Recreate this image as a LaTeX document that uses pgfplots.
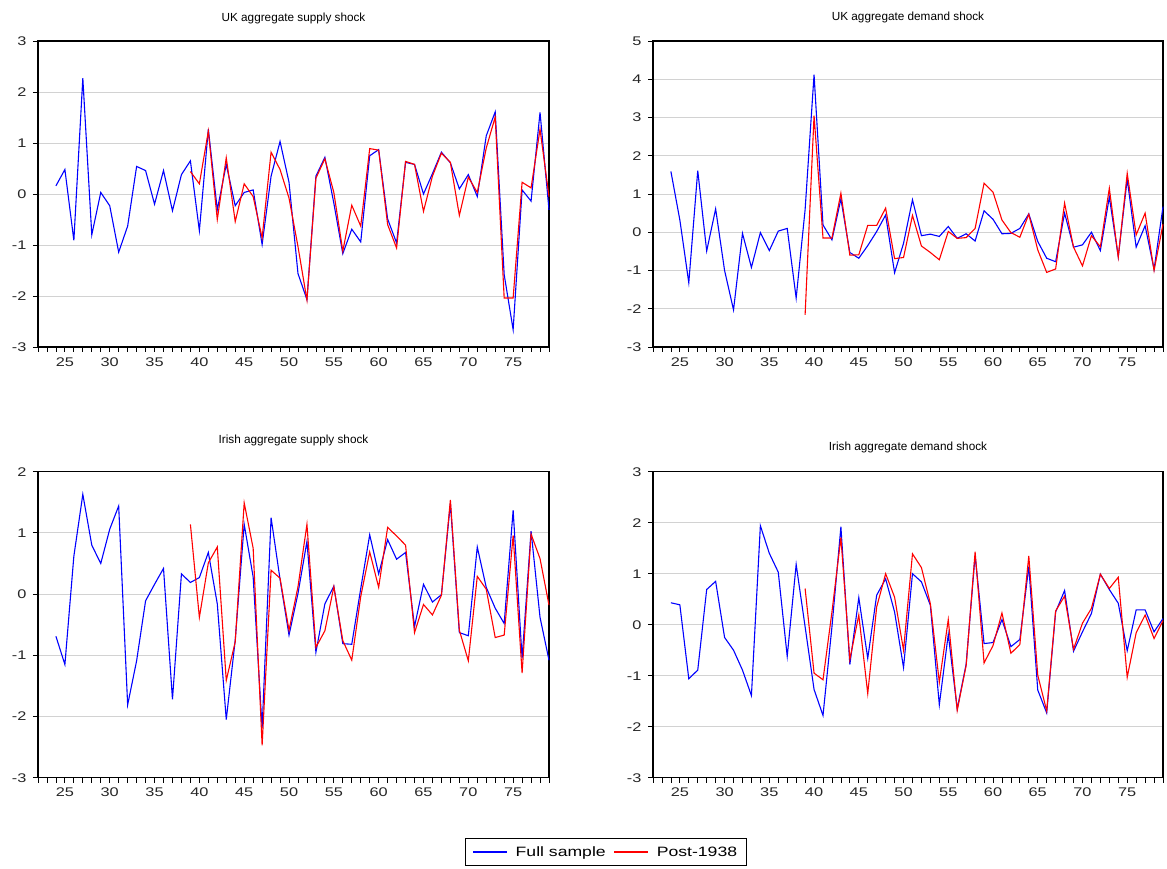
\documentclass[border=0pt]{standalone}
\usepackage{pgfplots}
\pgfplotsset{compat=1.18}
\usepackage{fontspec}
\setmainfont{Liberation Sans}
\newfontfamily\tickfont[FakeStretch=1.3]{Liberation Sans}
\definecolor{gridgray}{RGB}{210,210,210}
\pgfplotsset{
  panel/.style={
    scale only axis, width=511bp, height=306bp,
    xmin=22, xmax=79,
    xtick={25,30,...,75}, xticklabels={25,30,35,40,45,50,55,60,65,70,75},
    minor xtick={22,23,...,79},
    tick pos=left, tick align=outside,
    major tick length=5bp, minor tick length=5bp,
    every tick/.style={black, line width=0.8bp},
    every minor tick/.style={black, line width=0.8bp},
    axis line style={black, line width=1.1bp},
    ymajorgrids, major grid style={gridgray, line width=0.9bp},
    tick label style={font=\tickfont\fontsize{12.6}{14}\selectfont, text=black!85},
    yticklabel style={xshift=-3bp},
    xticklabel style={yshift=-2bp},
    title style={font=\fontsize{11.8}{13}\selectfont, anchor=base, at={(0.5,1)}},
    clip=false,
  },
  bl/.style={blue, line width=1.1bp, mark=none},
  rd/.style={red, line width=1.1bp, mark=none},
}
\begin{document}
\begin{tikzpicture}
\useasboundingbox (0bp,0bp) rectangle (1167bp,869bp);
% Panel 1
\begin{axis}[panel, at={(38bp,522bp)}, anchor=south west, ymin=-3, ymax=3,
  ytick={-3,...,3}, yticklabels={-3,-2,-1,0,1,2,3},
  title={UK aggregate supply shock}, title style={yshift=13.5bp}]
\addplot[bl] coordinates {(24,0.16)(25,0.48)(26,-0.91)(27,2.27)(28,-0.80)(29,0.03)(30,-0.23)(31,-1.14)(32,-0.63)(33,0.54)(34,0.46)(35,-0.20)(36,0.46)(37,-0.33)(38,0.38)(39,0.65)(40,-0.72)(41,1.27)(42,-0.31)(43,0.58)(44,-0.23)(45,0.03)(46,0.08)(47,-0.99)(48,0.35)(49,1.03)(50,0.23)(51,-1.56)(52,-2.07)(53,0.35)(54,0.72)(55,-0.18)(56,-1.17)(57,-0.69)(58,-0.94)(59,0.75)(60,0.87)(61,-0.49)(62,-0.96)(63,0.62)(64,0.58)(65,0.00)(66,0.40)(67,0.82)(68,0.61)(69,0.10)(70,0.38)(71,-0.05)(72,1.14)(73,1.61)(74,-1.58)(75,-2.66)(76,0.08)(77,-0.14)(78,1.60)(79,-0.31)};
\addplot[rd] coordinates {(39,0.44)(40,0.20)(41,1.23)(42,-0.50)(43,0.71)(44,-0.54)(45,0.20)(46,-0.05)(47,-0.86)(48,0.82)(49,0.48)(50,-0.08)(51,-1.03)(52,-2.08)(53,0.31)(54,0.69)(55,0.03)(56,-1.12)(57,-0.22)(58,-0.63)(59,0.89)(60,0.86)(61,-0.60)(62,-1.06)(63,0.64)(64,0.58)(65,-0.34)(66,0.35)(67,0.80)(68,0.62)(69,-0.42)(70,0.33)(71,0.03)(72,0.90)(73,1.51)(74,-2.04)(75,-2.04)(76,0.23)(77,0.12)(78,1.27)(79,-0.05)};
\end{axis}
% Panel 2
\begin{axis}[panel, at={(653bp,522bp)}, anchor=south west, width=510bp, ymin=-3, ymax=5,
  ytick={-3,...,5}, yticklabels={-3,-2,-1,0,1,2,3,4,5},
  title={UK aggregate demand shock}, title style={yshift=14.5bp}]
\addplot[bl] coordinates {(24,1.59)(25,0.32)(26,-1.32)(27,1.61)(28,-0.49)(29,0.61)(30,-1.00)(31,-2.03)(32,-0.03)(33,-0.92)(34,-0.01)(35,-0.48)(36,0.03)(37,0.10)(38,-1.72)(39,0.59)(40,4.12)(41,0.19)(42,-0.20)(43,0.87)(44,-0.53)(45,-0.68)(46,-0.35)(47,0.02)(48,0.45)(49,-1.06)(50,-0.29)(51,0.85)(52,-0.09)(53,-0.05)(54,-0.11)(55,0.15)(56,-0.16)(57,-0.04)(58,-0.23)(59,0.56)(60,0.34)(61,-0.04)(62,-0.03)(63,0.10)(64,0.48)(65,-0.24)(66,-0.68)(67,-0.77)(68,0.50)(69,-0.39)(70,-0.33)(71,0.00)(72,-0.48)(73,0.92)(74,-0.64)(75,1.39)(76,-0.39)(77,0.17)(78,-0.97)(79,0.67)};
\addplot[rd] coordinates {(39,-2.16)(40,3.05)(41,-0.15)(42,-0.15)(43,1.02)(44,-0.60)(45,-0.59)(46,0.18)(47,0.18)(48,0.63)(49,-0.69)(50,-0.66)(51,0.44)(52,-0.36)(53,-0.53)(54,-0.72)(55,0.02)(56,-0.16)(57,-0.14)(58,0.10)(59,1.28)(60,1.05)(61,0.32)(62,-0.01)(63,-0.13)(64,0.47)(65,-0.46)(66,-1.05)(67,-0.96)(68,0.76)(69,-0.39)(70,-0.88)(71,-0.09)(72,-0.38)(73,1.15)(74,-0.65)(75,1.54)(76,-0.07)(77,0.50)(78,-1.00)(79,0.21)};
\end{axis}
% Panel 3
\begin{axis}[panel, at={(38bp,91.3bp)}, anchor=south west, ymin=-3, ymax=2,
  ytick={-3,...,2}, yticklabels={-3,-2,-1,0,1,2},
  title={Irish aggregate supply shock}, title style={yshift=22bp},
  legend columns=2,
  legend style={at={(1.1113,-0.197)}, anchor=north, draw=black, line width=0.8bp,
    font=\tickfont\fontsize{13.6}{15}\selectfont, inner xsep=7bp, inner ysep=6bp,
    /tikz/every even column/.append style={column sep=6bp},
    /tikz/every odd column/.append style={column sep=6bp}},
  legend image code/.code={\draw[#1] (0bp,0bp) -- (34bp,0bp);}]
\addplot[bl] coordinates {(24,-0.69)(25,-1.15)(26,0.62)(27,1.63)(28,0.80)(29,0.50)(30,1.06)(31,1.44)(32,-1.81)(33,-1.09)(34,-0.11)(35,0.16)(36,0.42)(37,-1.72)(38,0.33)(39,0.19)(40,0.27)(41,0.68)(42,-0.16)(43,-2.05)(44,-0.75)(45,1.14)(46,0.28)(47,-2.19)(48,1.25)(49,0.24)(50,-0.67)(51,0.01)(52,0.86)(53,-0.95)(54,-0.16)(55,0.13)(56,-0.81)(57,-0.82)(58,0.09)(59,0.97)(60,0.33)(61,0.89)(62,0.57)(63,0.68)(64,-0.53)(65,0.16)(66,-0.13)(67,-0.01)(68,1.48)(69,-0.63)(70,-0.68)(71,0.77)(72,0.11)(73,-0.23)(74,-0.48)(75,1.37)(76,-1.05)(77,1.03)(78,-0.38)(79,-1.08)};
\addlegendentry{Full sample}
\addplot[rd] coordinates {(39,1.14)(40,-0.38)(41,0.51)(42,0.77)(43,-1.41)(44,-0.78)(45,1.49)(46,0.75)(47,-2.47)(48,0.39)(49,0.26)(50,-0.59)(51,0.12)(52,1.14)(53,-0.87)(54,-0.60)(55,0.12)(56,-0.76)(57,-1.08)(58,-0.04)(59,0.69)(60,0.11)(61,1.09)(62,0.95)(63,0.80)(64,-0.63)(65,-0.17)(66,-0.34)(67,-0.02)(68,1.54)(69,-0.59)(70,-1.09)(71,0.29)(72,0.08)(73,-0.71)(74,-0.67)(75,0.96)(76,-1.29)(77,0.98)(78,0.58)(79,-0.18)};
\addlegendentry{Post-1938}
\end{axis}
% Panel 4
\begin{axis}[panel, at={(653bp,91.3bp)}, anchor=south west, width=510bp, ymin=-3, ymax=3,
  ytick={-3,...,3}, yticklabels={-3,-2,-1,0,1,2,3},
  title={Irish aggregate demand shock}, title style={yshift=15bp}]
\addplot[bl] coordinates {(24,0.43)(25,0.39)(26,-1.06)(27,-0.89)(28,0.69)(29,0.85)(30,-0.25)(31,-0.50)(32,-0.89)(33,-1.39)(34,1.94)(35,1.40)(36,1.03)(37,-0.62)(38,1.18)(39,-0.04)(40,-1.27)(41,-1.78)(42,-0.04)(43,1.92)(44,-0.78)(45,0.53)(46,-0.66)(47,0.58)(48,0.90)(49,0.25)(50,-0.84)(51,1.00)(52,0.84)(53,0.38)(54,-1.57)(55,-0.19)(56,-1.65)(57,-0.77)(58,1.36)(59,-0.37)(60,-0.35)(61,0.10)(62,-0.43)(63,-0.29)(64,1.14)(65,-1.28)(66,-1.73)(67,0.25)(68,0.67)(69,-0.52)(70,-0.14)(71,0.22)(72,0.99)(73,0.69)(74,0.42)(75,-0.51)(76,0.29)(77,0.29)(78,-0.14)(79,0.12)};
\addplot[rd] coordinates {(39,0.71)(40,-0.95)(41,-1.08)(42,0.25)(43,1.71)(44,-0.68)(45,0.19)(46,-1.35)(47,0.35)(48,1.00)(49,0.54)(50,-0.50)(51,1.39)(52,1.12)(53,0.41)(54,-1.13)(55,0.10)(56,-1.68)(57,-0.80)(58,1.43)(59,-0.75)(60,-0.41)(61,0.23)(62,-0.56)(63,-0.39)(64,1.35)(65,-0.99)(66,-1.69)(67,0.27)(68,0.56)(69,-0.48)(70,0.03)(71,0.32)(72,0.99)(73,0.71)(74,0.93)(75,-1.03)(76,-0.16)(77,0.19)(78,-0.27)(79,0.08)};
\end{axis}
\end{tikzpicture}
\end{document}
